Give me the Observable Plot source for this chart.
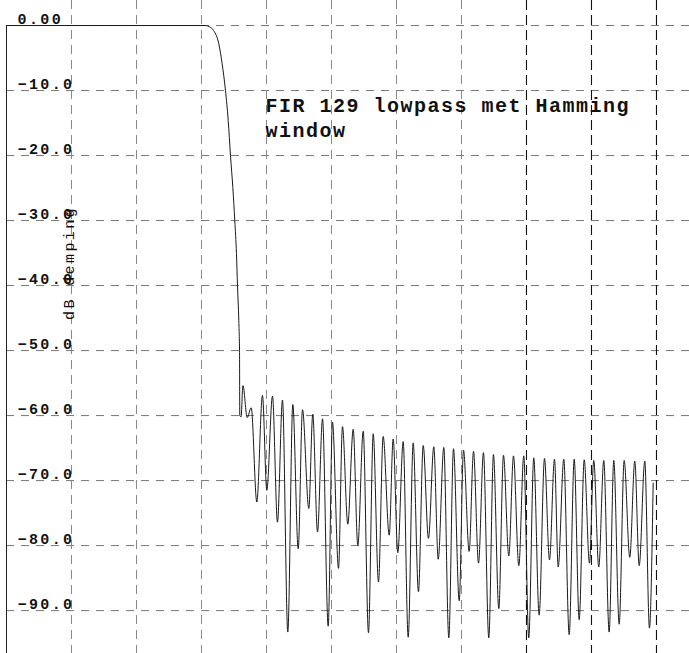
<!DOCTYPE html>
<html>
<head>
<meta charset="utf-8">
<script src="https://cdn.jsdelivr.net/npm/d3@7"></script>
<script src="https://cdn.jsdelivr.net/npm/@observablehq/plot@0.6"></script>
<style>
  html, body { margin: 0; padding: 0; background: #fff; }
  #chart svg { display: block; }
  #chart g[font-size="15"] text { letter-spacing: 2.4px; }
  #chart g[font-size="20"] text { letter-spacing: 1.5px; }
</style>
</head>
<body>
<div id="chart"></div>
<script>
// Magnitude response of a 129-tap FIR lowpass (Hamming window).
// Frequency in grid divisions, attenuation in dB.
const freq = [
  0, 3.062, 3.123, 3.189, 3.266, 3.318, 3.369, 3.411, 3.446, 3.482,
  3.512, 3.538, 3.554, 3.574, 3.585, 3.589, 3.608, 3.638, 3.703, 3.765,
  3.851, 3.938, 4.005, 4.092, 4.169, 4.246, 4.328, 4.405, 4.488, 4.554,
  4.651, 4.712, 4.785, 4.862, 4.949, 5.015, 5.108, 5.169, 5.251, 5.334,
  5.405, 5.488, 5.569, 5.642, 5.723, 5.795, 5.888, 5.949, 6.020, 6.103,
  6.180, 6.257, 6.338, 6.411, 6.492, 6.574, 6.642, 6.728, 6.805, 6.877,
  6.965, 7.031, 7.118, 7.185, 7.262, 7.338, 7.420, 7.492, 7.574, 7.646,
  7.728, 7.800, 7.882, 7.958, 8.035, 8.112, 8.195, 8.277, 8.354, 8.431,
  8.488, 8.574, 8.657, 8.734, 8.811, 8.888, 8.969, 9.035, 9.112, 9.189,
  9.272, 9.343, 9.426, 9.503, 9.589, 9.666, 9.734, 9.820, 9.892, 9.949
];
const dB = [
  0, 0, -0.2, -0.8, -2.8, -5.9, -10, -14.6, -20, -24.9,
  -30, -35.1, -40, -45.4, -50, -60, -60.2, -55.4, -60.3, -58.8,
  -73.3, -56.9, -71.5, -57.0, -76.4, -57.6, -93.3, -58.3, -80.5, -59.1,
  -74.3, -59.8, -77.9, -60.5, -92.4, -61.0, -83.5, -61.7, -76.7, -62.1,
  -80.0, -62.4, -93.4, -62.8, -85.6, -63.2, -78.4, -63.6, -81.1, -64.0,
  -94.1, -64.2, -87.1, -64.6, -78.9, -64.8, -82.1, -64.9, -94.2, -65.1,
  -88.5, -65.3, -80.9, -65.5, -82.7, -65.7, -94.2, -66.0, -89.7, -66.1,
  -81.6, -66.2, -83.1, -66.2, -94.2, -66.5, -90.7, -66.6, -82.2, -66.7,
  -83.3, -66.7, -93.7, -66.7, -91.4, -66.8, -82.7, -66.9, -83.3, -66.9,
  -93.3, -66.9, -92.1, -66.9, -81.8, -67.0, -83.1, -67.0, -92.7, -70.4
];

const gridDb = [0, -10, -20, -30, -40, -50, -60, -70, -80, -90];
const gridLabels = ["0.00", "\u221210.0", "\u221220.0", "\u221230.0", "\u221240.0", "\u221250.0", "\u221260.0", "\u221270.0", "\u221280.0", "\u221290.0"];
const gridFreqLight = [1, 2, 3, 4, 5, 6, 7];
const gridFreqDark = [8, 9, 10];
const yLabel = "dB demping";
const title = "FIR 129 lowpass met Hamming\nwindow";

const response = freq.map((f, i) => ({f, db: dB[i]}));
const ticks = gridDb.map((v, i) => ({v, label: gridLabels[i]}));
const mono = "'Courier New', 'Liberation Mono', monospace";
const yMin = -96.6, yMax = 3.85;

const chart = Plot.plot({
  width: 689,
  height: 653,
  marginLeft: 6,
  marginRight: 0,
  marginTop: 0,
  marginBottom: 0,
  x: {domain: [0, 10.508], axis: null},
  y: {domain: [yMin, yMax], axis: null},
  marks: [
    Plot.ruleY(gridDb, {stroke: "#777", strokeDasharray: "8,7"}),
    Plot.ruleX(gridFreqLight, {stroke: "#888", strokeDasharray: "9,6"}),
    Plot.ruleX(gridFreqDark, {stroke: "#111", strokeWidth: 1.1, strokeDasharray: "10,5"}),
    Plot.ruleX([0], {y1: 0, y2: yMin, stroke: "#222"}),
    Plot.line(response, {x: "f", y: "db", curve: "monotone-x", stroke: "#1a1a1a", strokeWidth: 1}),
    Plot.text(ticks, {
      y: "v", text: "label", frameAnchor: "left", textAnchor: "start", lineAnchor: "bottom",
      dx: 11, dy: -2, fontFamily: mono, fontSize: 15, fontWeight: "bold", fill: "#111"
    }),
    Plot.text([yLabel], {
      frameAnchor: "left", textAnchor: "middle", rotate: -90, dx: 63, dy: -64,
      fontFamily: mono, fontSize: 15, fill: "#111"
    }),
    Plot.text([title], {
      frameAnchor: "top-left", textAnchor: "start", lineAnchor: "top", dx: 259, dy: 94,
      lineHeight: 1.25, fontFamily: mono, fontSize: 20, fontWeight: "bold", fill: "#111"
    })
  ]
});

document.getElementById("chart").appendChild(chart);
</script>
</body>
</html>
